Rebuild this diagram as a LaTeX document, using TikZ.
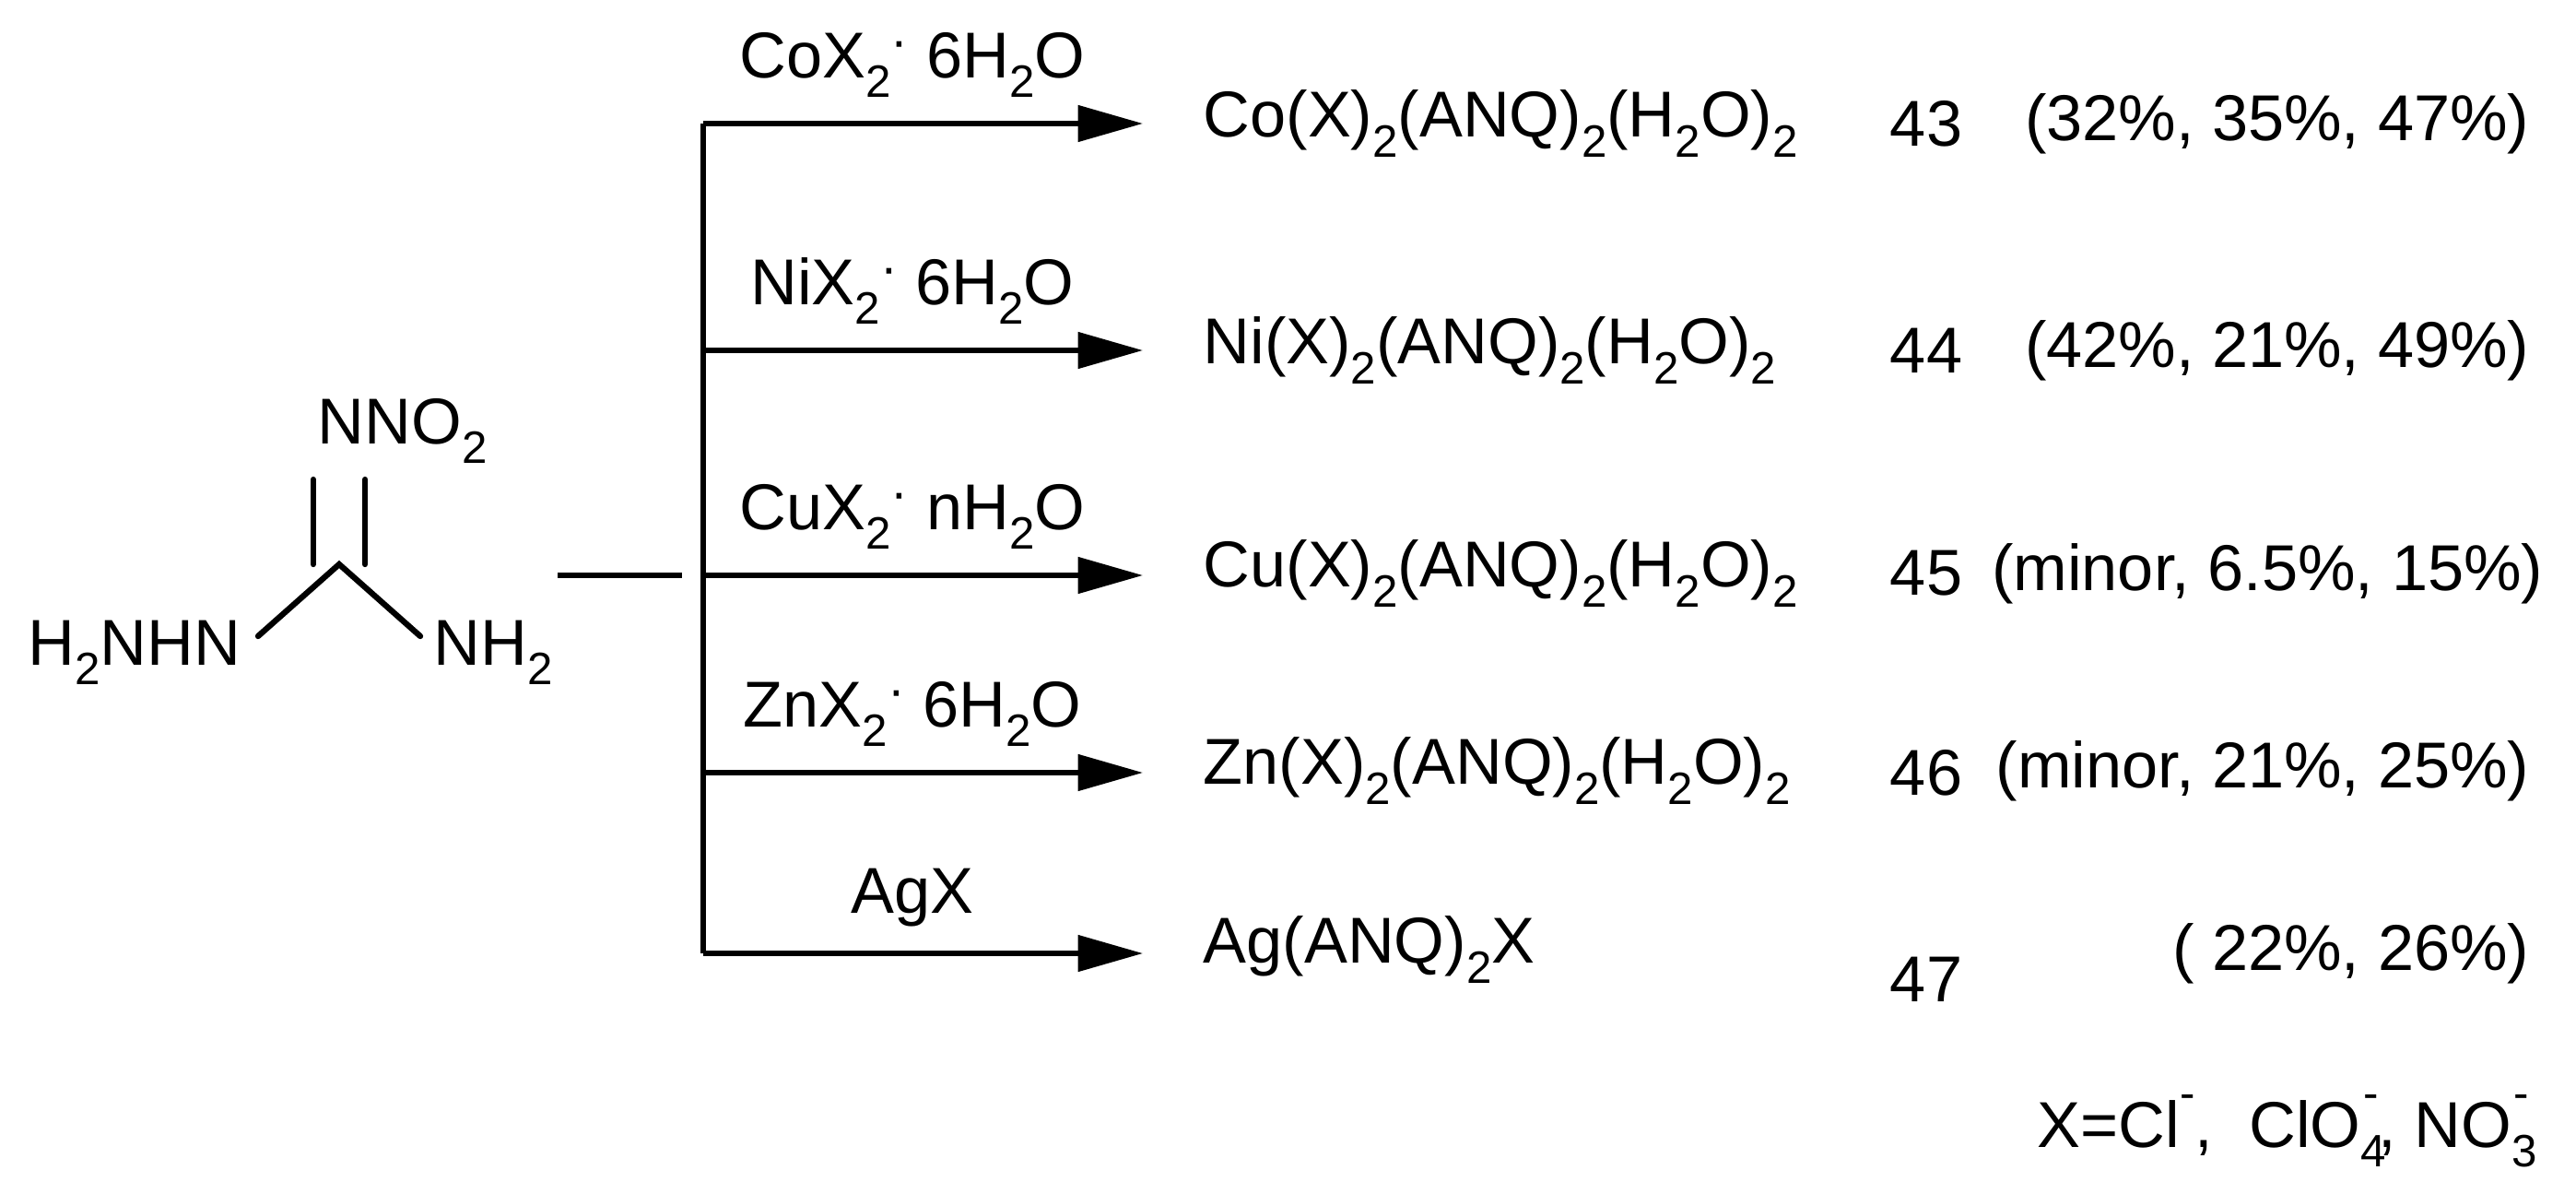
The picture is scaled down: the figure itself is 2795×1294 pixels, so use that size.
\documentclass[tikz,border=0pt]{standalone}
\usepackage{fontspec}
\setmainfont{Liberation Sans}
\usetikzlibrary{arrows.meta}
\newcommand{\sbs}[1]{\raisebox{-0.3em}{\fontsize{14}{14}\selectfont #1}}
\newcommand{\sps}[1]{\raisebox{0.6em}{\fontsize{14}{14}\selectfont #1}}
\newcommand{\mdt}{\raisebox{0.3em}{\fontsize{16}{16}\selectfont ·}}
\begin{document}
\begin{tikzpicture}[x=0.01cm,y=-0.01cm,
  txt/.style={inner sep=0pt,font=\fontsize{20}{24}\selectfont},
  ln/.style={line width=1.8pt},
  arr/.style={line width=1.6pt,-{Triangle[length=20pt,width=11pt]}}]
\useasboundingbox (0,0) rectangle (2795,1294);
% molecule
\coordinate (C) at (368,612);
\coordinate (L) at (280,690);
\coordinate (R) at (456,690);
\draw[ln,line cap=round] (L) -- (C) -- (R);
\draw[ln,line cap=round] ([xshift=-8]C) -- ++(0,-92);
\draw[ln,line cap=round] ([xshift=8]C) -- ++(0,-92);
\node[txt,anchor=south west] (nno) at (344,503) {NNO\sbs{2}};
\node[txt,anchor=north east] (hn) at (262,672) {H\sbs{2}NHN};
\node[txt,anchor=north west] (nh) at (470,672) {NH\sbs{2}};
\coordinate (m1) at (605,624);
\coordinate (m2) at (740,624);
\draw[ln] (m1) -- (m2);
% bus
\coordinate (bt) at (763,134);
\coordinate (bb) at (763,1034);
\draw[ln] (bt) -- (bb);
\foreach \y/\lab/\n in {
 134/{CoX\sbs{2}\mdt\ 6H\sbs{2}O}/a,
 380/{NiX\sbs{2}\mdt\ 6H\sbs{2}O}/b,
 624/{CuX\sbs{2}\mdt\ nH\sbs{2}O}/c,
 838/{ZnX\sbs{2}\mdt\ 6H\sbs{2}O}/d,
 1034/{AgX}/e}{
 \coordinate (s\n) at (763,\y);
 \coordinate (t\n) at (1240,\y);
 \draw[arr] (s\n) -- (t\n);
 \node[txt,anchor=south] (r\n) at (990,\y-28) {\lab};
}
\node[txt,anchor=west] (pa) at (1305,134) {Co(X)\sbs{2}(ANQ)\sbs{2}(H\sbs{2}O)\sbs{2}};
\node[txt,anchor=west] (pb) at (1305,380) {Ni(X)\sbs{2}(ANQ)\sbs{2}(H\sbs{2}O)\sbs{2}};
\node[txt,anchor=west] (pc) at (1305,622) {Cu(X)\sbs{2}(ANQ)\sbs{2}(H\sbs{2}O)\sbs{2}};
\node[txt,anchor=west] (pd) at (1305,836) {Zn(X)\sbs{2}(ANQ)\sbs{2}(H\sbs{2}O)\sbs{2}};
\node[txt,anchor=west] (pe) at (1305,1030) {Ag(ANQ)\sbs{2}X};
\node[txt] (na) at (2090,134) {43};
\node[txt] (nb) at (2090,380) {44};
\node[txt] (nc) at (2090,622) {45};
\node[txt] (nd) at (2090,838) {46};
\node[txt] (ne) at (2090,1062) {47};
\node[txt,anchor=east] (ya) at (2745,134) {(32\%, 35\%, 47\%)};
\node[txt,anchor=east] (yb) at (2745,380) {(42\%, 21\%, 49\%)};
\node[txt,anchor=east] (yc) at (2760,622) {(minor, 6.5\%, 15\%)};
\node[txt,anchor=east] (yd) at (2745,836) {(minor, 21\%, 25\%)};
\node[txt,anchor=east] (ye) at (2745,1034) {( 22\%, 26\%)};
\node[txt,anchor=east] (fn) at (2745,1227) {X=Cl\sps{-},\ \ ClO\sbs{4}\sps{\kern-0.5em-}, NO\sbs{3}\sps{\kern-0.5em-}};
\end{tikzpicture}
\end{document}
